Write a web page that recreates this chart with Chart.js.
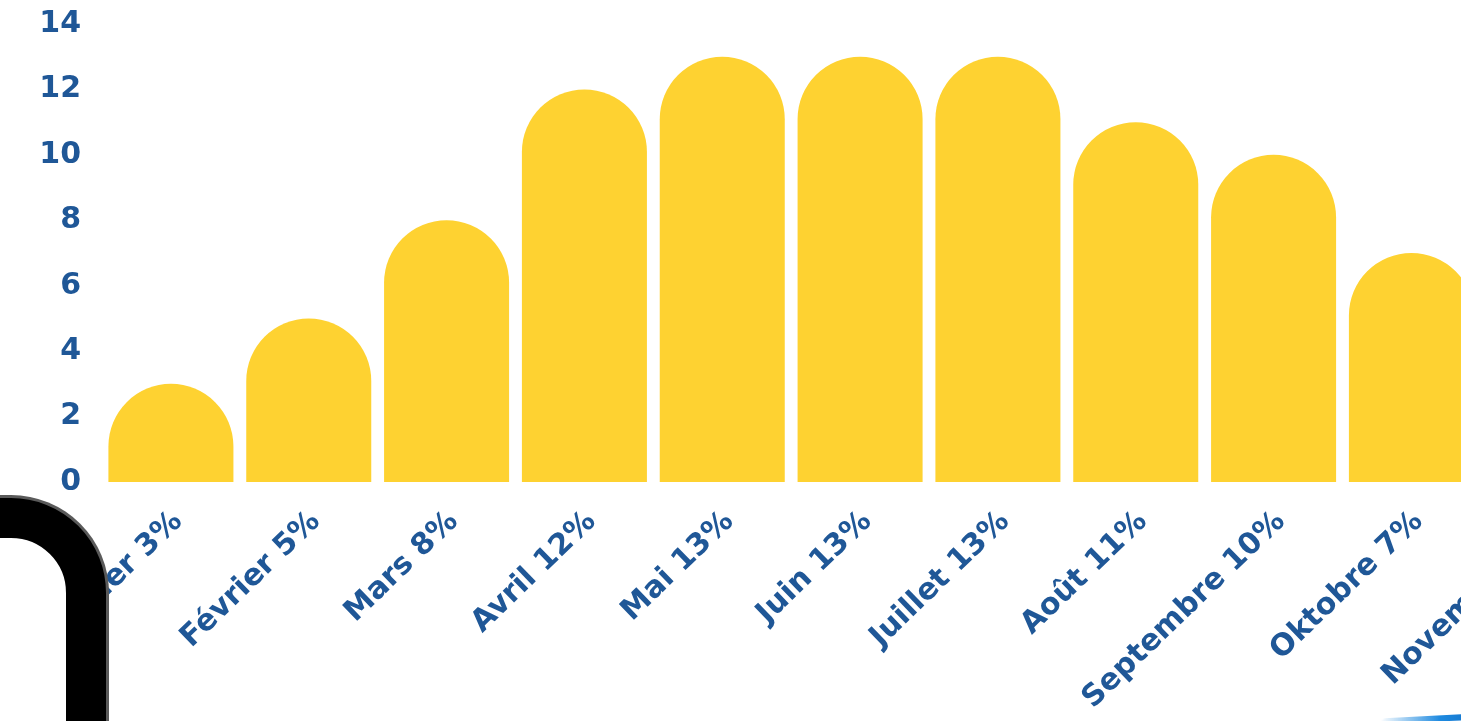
<!DOCTYPE html>
<html>
<head>
<meta charset="utf-8">
<script src="https://cdn.jsdelivr.net/npm/chart.js@4/dist/chart.umd.min.js"></script>
<style>
  html, body { margin: 0; padding: 0; background: #fff; overflow: hidden; }
  body { width: 1461px; height: 721px; position: relative; }
  #wrap { position: absolute; left: 0; top: -15px; width: 1756px; height: 736px; }
  #frame {
    position: absolute; left: -100px; top: 498px; width: 126px; height: 400px;
    border: 40px solid #000; border-radius: 95px;
    background: #fff;
    box-shadow: 0 0 0 3px #5a5a5a;
  }
  #swoosh {
    position: absolute; left: 1380px; top: 716px; width: 100px; height: 6px;
    border-radius: 6px 0 0 0;
    background: linear-gradient(90deg, rgba(30,130,220,0) 0%, #1e8ae0 60%, #1070c8 100%);
    transform: rotate(-3deg);
  }
</style>
</head>
<body>
<div id="wrap"><canvas id="chart"></canvas></div>
<div id="frame"></div>
<div id="swoosh"></div>
<script>
// Mois et part de production (%)
const months = ['Janvier', 'Février', 'Mars', 'Avril', 'Mai', 'Juin', 'Juillet', 'Août', 'Septembre', 'Oktobre', 'Novembre', 'Décembre'];
const shares = [3, 5, 8, 12, 13, 13, 13, 11, 10, 7, 3, 2];
const yTicks = [0, 2, 4, 6, 8, 10, 12, 14];

const blue = '#1f5797';
const yellow = '#fed231';

const labels = months.map((m, i) => m + ' ' + shares[i] + '%');

// Chart.js limite le rayon à la moitié de la hauteur : on dessine le dôme complet nous-mêmes
const roundTops = {
    id: 'roundTops',
    afterDatasetsDraw(chart) {
        const ctx = chart.ctx;
        ctx.save();
        ctx.fillStyle = yellow;
        chart.getDatasetMeta(0).data.forEach(bar => {
            const { x, y, base, width } = bar.getProps(['x', 'y', 'base', 'width'], true);
            const r = width / 2;
            ctx.beginPath();
            ctx.moveTo(x - r, base);
            ctx.lineTo(x - r, Math.min(y + r, base));
            ctx.arc(x, y + r, r, Math.PI, 0);
            ctx.lineTo(x + r, base);
            ctx.closePath();
            ctx.fill();
        });
        ctx.restore();
    }
};

new Chart(document.getElementById('chart'), {
    type: 'bar',
    data: {
        labels,
        datasets: [{
            data: shares,
            backgroundColor: 'rgba(0,0,0,0)',
            borderWidth: 0,
            categoryPercentage: 1,
            barPercentage: 0.907
        }]
    },
    plugins: [roundTops],
    options: {
        responsive: true,
        maintainAspectRatio: false,
        animation: false,
        layout: { padding: { top: 9, bottom: 0, left: 0, right: 0 } },
        plugins: { legend: { display: false }, tooltip: { enabled: false } },
        scales: {
            x: {
                grid: { display: false, drawTicks: false },
                border: { display: false },
                ticks: {
                    color: blue,
                    font: { family: 'DejaVu Sans', weight: 'bold', size: 30 },
                    minRotation: 44,
                    maxRotation: 44,
                    padding: 22,
                    labelOffset: 7,
                    autoSkip: false
                },
                afterFit(scale) { scale.height = 239; }
            },
            y: {
                min: 0,
                max: 14,
                afterBuildTicks(scale) { scale.ticks = yTicks.map(v => ({ value: v })); },
                grid: { display: false, drawTicks: false },
                border: { display: false },
                ticks: {
                    color: blue,
                    font: { family: 'DejaVu Sans', weight: 'bold', size: 30 },
                    padding: 21
                },
                afterFit(scale) { scale.width = 102; }
            }
        }
    }
});
</script>
</body>
</html>
